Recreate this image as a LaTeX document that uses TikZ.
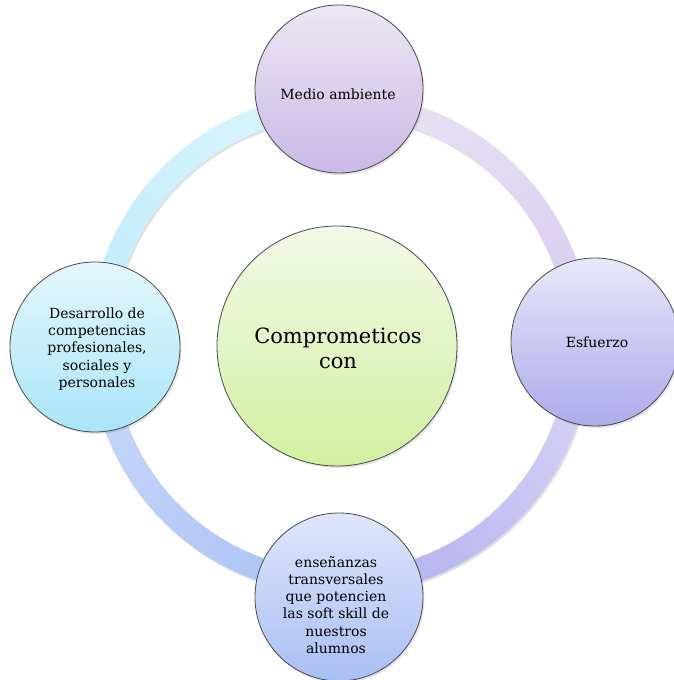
\documentclass[tikz,border=0pt]{standalone}
\usepackage{fontspec}
\setmainfont{DejaVu Serif}
\usetikzlibrary{shadows}
\definecolor{tpT}{HTML}{EDE6F5}\definecolor{tpB}{HTML}{C9B9E5}
\definecolor{rtT}{HTML}{E8E8F9}\definecolor{rtB}{HTML}{AEAAEC}
\definecolor{btT}{HTML}{DFE6FB}\definecolor{btB}{HTML}{A9BFF3}
\definecolor{lfT}{HTML}{E3F7FD}\definecolor{lfB}{HTML}{A9E5F8}
\definecolor{ctT}{HTML}{F2F9E8}\definecolor{ctB}{HTML}{D2F0A0}
\definecolor{rA}{HTML}{DCF5FD}\definecolor{rB}{HTML}{BFECFB}
\definecolor{rC}{HTML}{CBDAFA}\definecolor{rD}{HTML}{A9C1F5}
\definecolor{rE}{HTML}{B1ADEF}\definecolor{rF}{HTML}{DAD9F7}
\definecolor{rG}{HTML}{D8CBEE}\definecolor{rH}{HTML}{EBE5F6}
\definecolor{edge}{HTML}{4A4A4A}
\newcommand\myringseg[4]{%
  \foreach \i in {0,...,29}{%
    \pgfmathsetmacro\aa{#1+(#2-#1)*\i/30}%
    \pgfmathsetmacro\bb{#1+(#2-#1)*(\i+1.4)/30}%
    \pgfmathtruncatemacro\pp{100-100*\i/29}%
    \draw[ringline, color=#3!\pp!#4] (R) ++(\aa:239) arc[start angle=\aa, end angle=\bb, radius=239];
  }}
\begin{document}
\begin{tikzpicture}[x=1pt,y=1pt,
  ringline/.style={line width=23pt},
  bubble/.style={circle, draw=edge, line width=0.8pt, align=center, inner sep=0pt,
    drop shadow={opacity=0.22, shadow xshift=1.5pt, shadow yshift=-2pt}},
  small/.style={font=\fontsize{14}{17.3}\selectfont},
  big/.style={font=\fontsize{21}{25}\selectfont}]
\useasboundingbox (0,0) rectangle (673,680);
\coordinate (R) at (340,336);
% ring shadow
\draw[ringline, black, opacity=0.12] ([shift={(1.5,-2)}]R) circle[radius=239];
\myringseg{90}{180}{rA}{rB}
\myringseg{180}{270}{rC}{rD}
\myringseg{270}{360}{rE}{rF}
\myringseg{0}{90}{rG}{rH}
% circles
\node[bubble, minimum size=240pt, top color=ctT, bottom color=ctB] (ctr) at (337,334) {};
\node[big, align=center] (ctrtxt) at (338,332) {Comprometicos\\con};
\node[bubble, minimum size=168pt, top color=tpT, bottom color=tpB] (top) at (339,591) {};
\node[small] (toptxt) at (338,586) {Medio ambiente};
\node[bubble, minimum size=168pt, top color=rtT, bottom color=rtB] (right) at (595,338) {};
\node[small] (righttxt) at (597,338) {Esfuerzo};
\node[bubble, minimum size=168pt, top color=btT, bottom color=btB] (bot) at (339,83) {};
\node[small, align=center] (bottxt) at (336,75) {enseñanzas\\transversales\\que potencien\\las soft skill de\\nuestros\\alumnos};
\node[bubble, minimum size=170pt, top color=lfT, bottom color=lfB] (left) at (95,333) {};
\node[small, align=center] (lefttxt) at (97,331) {Desarrollo de\\competencias\\profesionales,\\sociales y\\personales};
\end{tikzpicture}
\end{document}
